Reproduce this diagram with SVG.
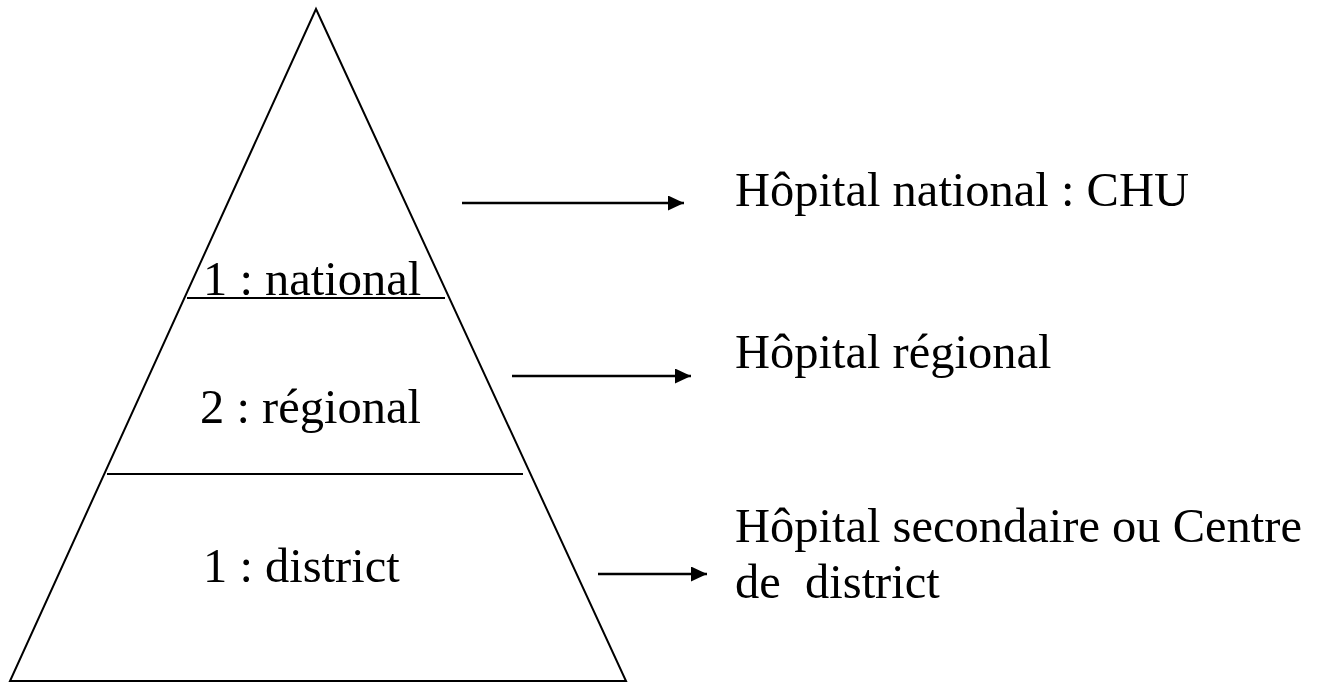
<svg xmlns="http://www.w3.org/2000/svg" width="1326" height="683" viewBox="0 0 1326 683">
<defs>
<marker id="ah" markerWidth="16" markerHeight="15" refX="16" refY="7.5" orient="auto" markerUnits="userSpaceOnUse">
<path d="M0,0 L16,7.5 L0,15 Z" fill="#000"/>
</marker>
</defs>
<style>
text{font-family:"Liberation Serif","Times New Roman",serif;font-size:48.5px;fill:#000;white-space:pre}
.ln{stroke:#000;stroke-width:2;fill:none}
.cn{stroke:#000;stroke-width:2.5;fill:none}
</style>
<rect width="1326" height="683" fill="#fff"/>
<g id="pyramid">
<polygon class="ln" points="316,9 10,681 626,681"/>
<line class="ln" x1="187" y1="298" x2="445" y2="298"/>
<line class="ln" x1="107" y1="474" x2="523" y2="474"/>
</g>
<g id="level-national"><text x="203" y="295">1 : national</text></g>
<g id="level-regional"><text x="200" y="423">2 : régional</text></g>
<g id="level-district"><text x="203" y="582">1 : district</text></g>
<g id="label-national"><text x="735" y="206">Hôpital national : CHU</text></g>
<g id="label-regional"><text x="735" y="368">Hôpital régional</text></g>
<g id="label-district"><text x="735" y="542">Hôpital secondaire ou Centre</text><text x="735" y="598">de  district</text></g>
<g id="connectors">
<line class="cn" x1="462" y1="203" x2="684" y2="203" marker-end="url(#ah)"/>
<line class="cn" x1="512" y1="376" x2="691" y2="376" marker-end="url(#ah)"/>
<line class="cn" x1="598" y1="574" x2="707" y2="574" marker-end="url(#ah)"/>
</g>
</svg>
